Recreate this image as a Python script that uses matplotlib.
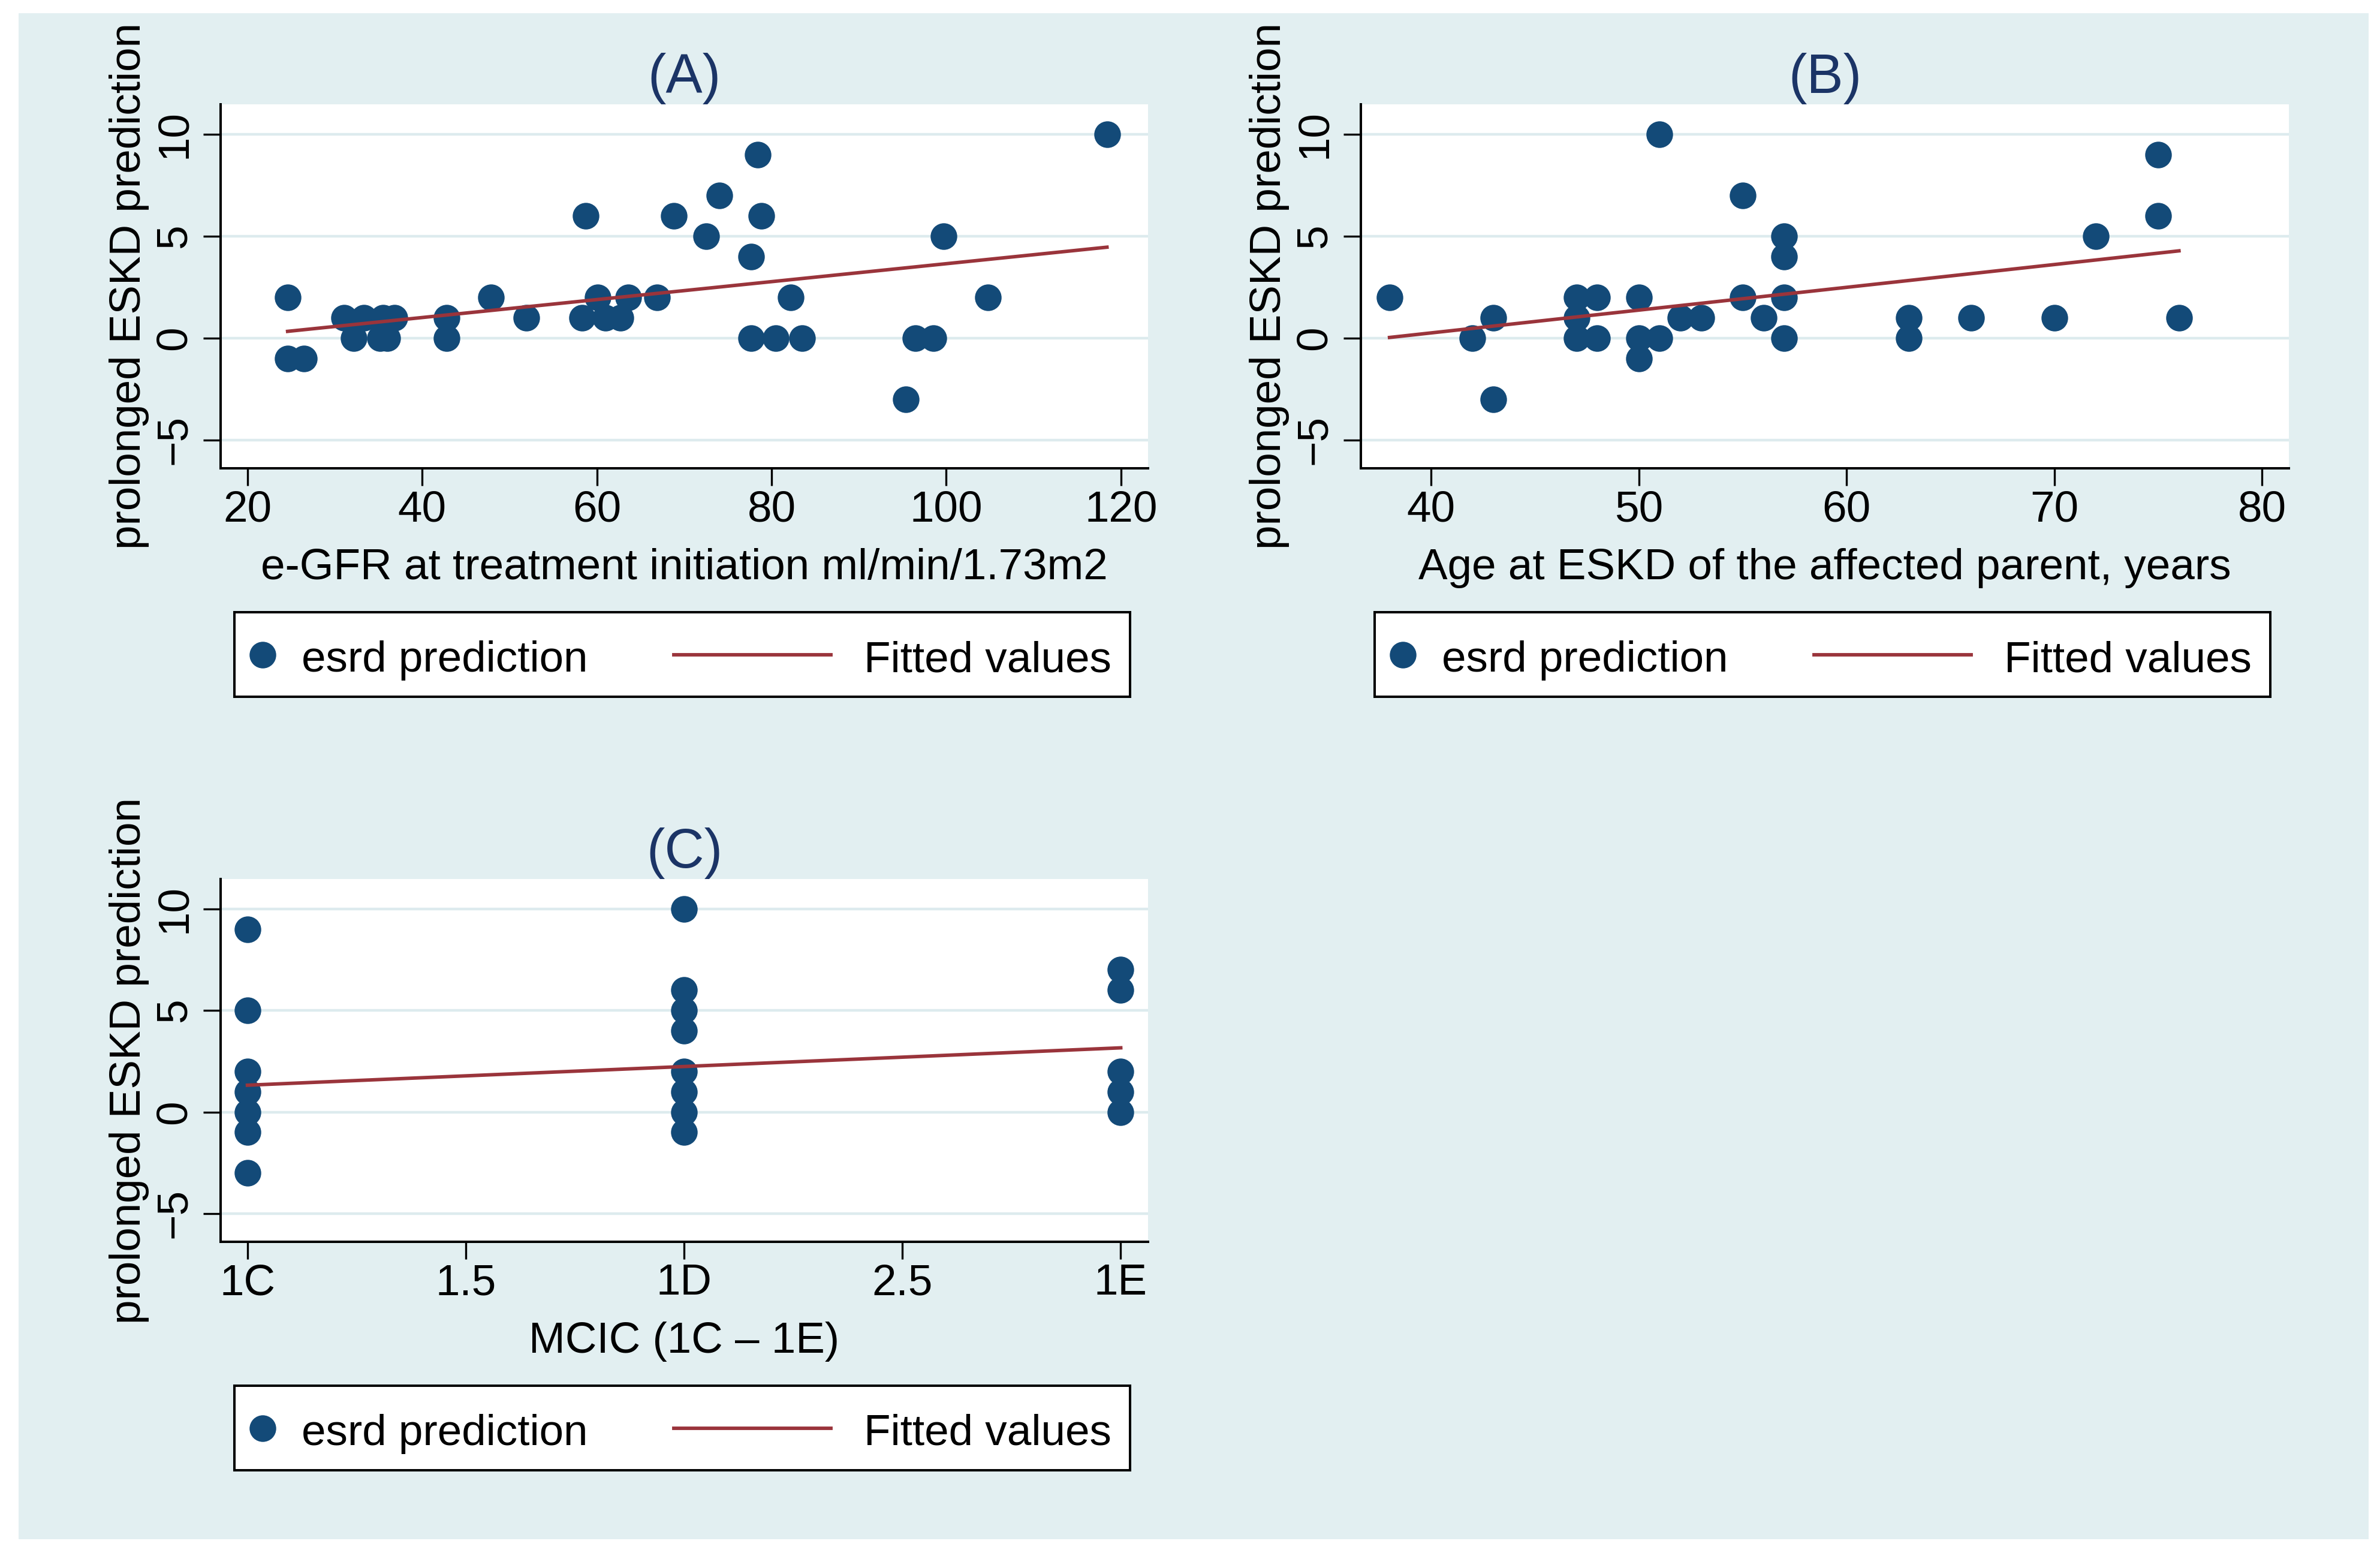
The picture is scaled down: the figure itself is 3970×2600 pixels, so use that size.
import matplotlib
matplotlib.use("Agg")
import matplotlib.pyplot as plt
from matplotlib.patches import Rectangle

# ---- data ----
# (A) e-GFR at treatment initiation vs prolonged ESKD prediction
egfr = [24.6, 24.6, 26.5, 31.1, 32.2, 33.3, 35.2, 35.5, 36.0, 36.8, 42.8, 42.8,
        47.9, 51.9, 58.3, 58.7, 60.1, 61.0, 62.7, 63.6, 66.9, 68.8, 72.5, 74.0,
        77.7, 77.7, 78.4, 78.8, 80.5, 82.2, 83.5, 95.4, 96.5, 98.5, 99.7, 104.8, 118.4]
esrd_a = [2, -1, -1, 1, 0, 1, 0, 1, 0, 1, 1, 0,
          2, 1, 1, 6, 2, 1, 1, 2, 2, 6, 5, 7,
          4, 0, 9, 6, 0, 2, 0, -3, 0, 0, 5, 2, 10]
fit_a_x = [24.6, 118.4]
fit_a_y = [0.33, 4.46]

# (B) age at ESKD of the affected parent
age = [38, 42, 43, 43, 47, 47, 47, 48, 48, 50, 50, 50, 51, 51, 52, 53,
       55, 55, 56, 57, 57, 57, 57, 63, 63, 66, 70, 72, 75, 75, 76]
esrd_b = [2, 0, 1, -3, 2, 1, 0, 2, 0, 2, 0, -1, 10, 0, 1, 1,
          7, 2, 1, 5, 4, 2, 0, 1, 0, 1, 1, 5, 9, 6, 1]
fit_b_x = [38, 76]
fit_b_y = [0.03, 4.28]

# (C) MCIC class (1C=1, 1D=2, 1E=3)
mcic = [1, 1, 1, 1, 1, 1, 1,
        2, 2, 2, 2, 2, 2, 2, 2,
        3, 3, 3, 3, 3]
esrd_c = [9, 5, 2, 1, 0, -1, -3,
          10, 6, 5, 4, 2, 1, 0, -1,
          7, 6, 2, 1, 0]
fit_c_x = [1, 3]
fit_c_y = [1.32, 3.16]
mcic_ticks = [1, 1.5, 2, 2.5, 3]
mcic_labels = ["1C", "1.5", "1D", "2.5", "1E"]

y_ticks = [-5, 0, 5, 10]
ylab = "prolonged ESKD prediction"

# ---- style ----
W, H = 3970, 2600
bg = "#E2EFF1"
grid_c = "#DDEBEE"
navy = "#134A78"
maroon = "#9A343B"
title_c = "#1B3466"
fs = 52.5
plt.rcParams["font.family"] = ["Liberation Sans", "DejaVu Sans"]


def rect(l, t, r, b):
    return [l / W, 1 - b / H, (r - l) / W, (b - t) / H]


def fx(px):
    return px / W


def fy(py):
    return 1 - py / H


fig = plt.figure(figsize=(W / 100, H / 100), dpi=100)
fig.patch.set_facecolor("white")
fig.patches.append(Rectangle((fx(31), fy(2567)), (3951 - 31) / W, (2567 - 22) / H,
                             transform=fig.transFigure, facecolor=bg, edgecolor="none",
                             zorder=-10))


def panel(box, x, y, fitx, fity, xlim, xticks, xticklabels, xlabel, title):
    l, t, r, b = box
    ax = fig.add_axes(rect(l, t, r, b))
    ax.set_facecolor("white")
    ax.plot(x, y, "o", color=navy, markersize=32, markeredgewidth=0, zorder=3)
    ax.plot(fitx, fity, color=maroon, lw=4.2, zorder=4)
    ax.set_xlim(*xlim)
    ax.set_ylim(-6.39, 11.47)
    ax.set_yticks(y_ticks)
    ax.set_xticks(xticks)
    if xticklabels is not None:
        ax.set_xticklabels(xticklabels)
    ax.yaxis.grid(True, color=grid_c, lw=3.2)
    ax.set_axisbelow(True)
    for s in ["top", "right"]:
        ax.spines[s].set_visible(False)
    for s in ["left", "bottom"]:
        ax.spines[s].set_linewidth(2.9)
        ax.spines[s].set_color("black")
    ax.tick_params(direction="out", length=21, width=2.4, labelsize=fs, colors="black")
    ax.tick_params(axis="x", pad=5)
    ax.tick_params(axis="y", labelrotation=90, pad=10)
    for lab in ax.get_yticklabels():
        lab.set_va("center")

    cx = (l + r) / 2
    fig.text(fx(cx), fy(t - 19), title, ha="center", va="baseline",
             fontsize=66, color=title_c)
    fig.text(fx(cx), fy(b + 185), xlabel, ha="center", va="baseline", fontsize=fs)
    fig.text(fx(l - 119), fy((t + b) / 2), ylab, rotation=90, ha="right",
             va="center", fontsize=fs)

    # legend box below the panel
    lg = fig.add_axes(rect(l + 23, b + 240, l + 1517, b + 381))
    lg.set_facecolor("white")
    lg.set_xlim(0, 1494)
    lg.set_ylim(141, 0)
    lg.set_xticks([])
    lg.set_yticks([])
    for s in lg.spines.values():
        s.set_linewidth(2.9)
        s.set_color("black")
    lg.plot([47], [71], "o", color=navy, markersize=32, markeredgewidth=0)
    lg.text(112, 99, "esrd prediction", fontsize=fs, va="baseline", ha="left")
    lg.plot([733, 995], [71, 71], color=maroon, lw=4.2)
    lg.text(1050, 99, "Fitted values", fontsize=fs, va="baseline", ha="left")
    return ax


panel((368, 174, 1915, 781), egfr, esrd_a, fit_a_x, fit_a_y, (16.93, 123.1),
      [20, 40, 60, 80, 100, 120], None,
      "e-GFR at treatment initiation ml/min/1.73m2", "(A)")
panel((2270, 174, 3818, 781), age, esrd_b, fit_b_x, fit_b_y, (36.62, 81.29),
      [40, 50, 60, 70, 80], None,
      "Age at ESKD of the affected parent, years", "(B)")
panel((368, 1466, 1915, 2071), mcic, esrd_c, fit_c_x, fit_c_y, (0.9386, 3.0625),
      mcic_ticks, mcic_labels, "MCIC (1C \u2013 1E)", "(C)")

fig.savefig("out.png", dpi=100, facecolor=fig.get_facecolor())
